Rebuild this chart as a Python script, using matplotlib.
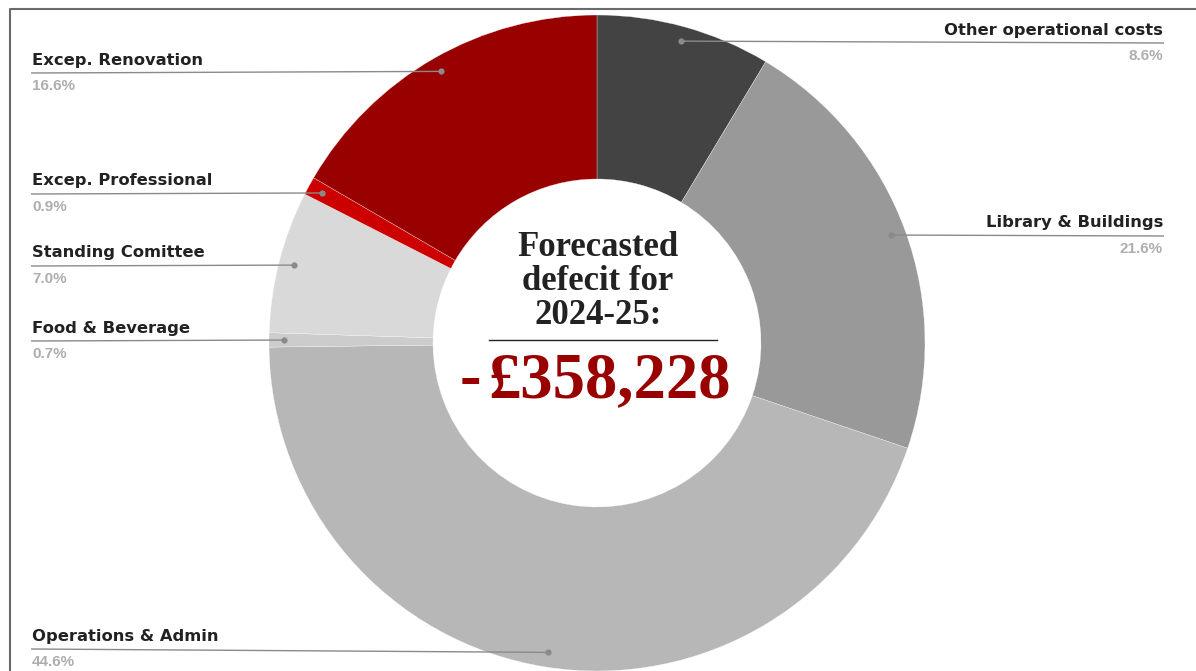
import numpy as np
import matplotlib.pyplot as plt

# budget shares of the forecast deficit, clockwise from 12 o'clock
categories = ["Other operational costs", "Library & Buildings", "Operations & Admin",
              "Food & Beverage", "Standing Comittee", "Excep. Professional",
              "Excep. Renovation"]
shares = [8.6, 21.6, 44.6, 0.7, 7.0, 0.9, 16.6]
colors = ["#434343", "#999999", "#b7b7b7", "#cccccc", "#d9d9d9", "#cc0000", "#990000"]
deficit = -358228
period = "2024-25"

# label placement: side, leader line y (pixels from top)
label_side = ["right", "right", "left", "left", "left", "left", "left"]
label_line_y = [43, 236, 649, 341, 266, 194, 73]

W, H = 1196, 671
fig = plt.figure(figsize=(W / 100, H / 100), dpi=100)
ax = fig.add_axes([0, 0, 1, 1])

cx, cy, R = 597, H - 343, 328
ax.pie(shares, colors=colors, startangle=90, counterclock=False,
       center=(cx, cy), radius=R, frame=True,
       wedgeprops=dict(width=R * 0.5, edgecolor="white", linewidth=0.2))
ax.set_xlim(0, W)
ax.set_ylim(0, H)
ax.axis("off")

# leader lines + labels
cum = np.cumsum([0] + shares[:-1])
for name, val, start, side, ly in zip(categories, shares, cum, label_side, label_line_y):
    ang = np.deg2rad(90 - (start + val / 2) * 3.6)
    dx, dy = cx + 0.955 * R * np.cos(ang), cy + 0.955 * R * np.sin(ang)
    y = H - ly
    if side == "left":
        x0, tx, ha = 31, 32, "left"
    else:
        x0, tx, ha = 1164, 1163, "right"
    ax.plot([x0, dx], [y, dy], color="#8a8a8a", lw=1.0, zorder=3,
            solid_capstyle="butt")
    ax.plot(dx, dy, "o", ms=4.5, color="#8a8a8a", mec="none", zorder=4)
    ax.text(tx, y + 13, name, ha=ha, va="center", fontsize=11.8,
            fontweight="bold", color="#222222", family="DejaVu Sans")
    ax.text(tx, y - 13, f"{val:.1f}%", ha=ha, va="center", fontsize=11,
            fontweight="bold", color="#aeaeae", family="Liberation Sans")

# center caption
serif = ["Liberation Serif", "DejaVu Serif"]
for i, line in enumerate(["Forecasted", "defecit for", f"{period}:"]):
    ax.text(cx + 1, H - 247 - i * 34, line, ha="center", va="center",
            fontsize=25, fontweight="bold", color="#222222", family=serif)
ax.plot([489, 717], [H - 340, H - 340], color="#222222", lw=1)
sign = "-" if deficit < 0 else ""
ax.text(481, H - 381, sign, ha="right", va="center",
        fontsize=46.5, fontweight="bold", color="#990000", family=serif)
ax.text(488, H - 381, f"£{abs(deficit):,}", ha="left", va="center",
        fontsize=46.5, fontweight="bold", color="#990000", family=serif)

# frame edge
ax.plot([10, 10, W], [0, H - 9, H - 9], color="#6a6a6a", lw=1.5)

fig.savefig("out.png", dpi=100)
